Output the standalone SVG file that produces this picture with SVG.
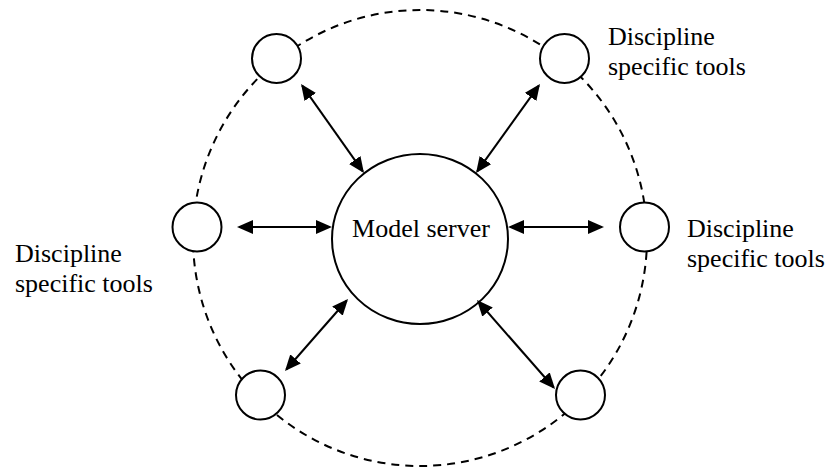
<svg xmlns="http://www.w3.org/2000/svg" width="830" height="468" viewBox="0 0 830 468">
<style>
.node{fill:#fff;stroke:#000;stroke-width:2}
.ring{fill:none;stroke:#000;stroke-width:2;stroke-dasharray:8 6}
.conn line{stroke:#000;stroke-width:2}
.lbl{font-family:"Liberation Serif","Times New Roman",serif;font-size:26px;fill:#000}
</style>
<defs>
<marker id="ah" markerUnits="userSpaceOnUse" markerWidth="16" markerHeight="14" refX="14" refY="7" orient="auto-start-reverse" viewBox="0 0 16 14">
<path d="M0,0 L16,7 L0,14 z" fill="#000"/>
</marker>
</defs>
<rect width="830" height="468" fill="#fff"/>
<ellipse class="ring" cx="420" cy="238" rx="227" ry="228"/>
<g id="server">
<ellipse class="node" cx="420" cy="239" rx="88" ry="85"/>
<text class="lbl" x="421" y="237" text-anchor="middle">Model server</text>
</g>
<g id="tool-top-left"><circle class="node" cx="276.5" cy="58.5" r="24.5"/></g>
<g id="tool-top-right"><circle class="node" cx="564.5" cy="58.5" r="24.5"/></g>
<g id="tool-left"><circle class="node" cx="197" cy="227" r="24.5"/></g>
<g id="tool-right"><circle class="node" cx="644.5" cy="227" r="24.5"/></g>
<g id="tool-bottom-left"><circle class="node" cx="260.5" cy="395" r="24.5"/></g>
<g id="tool-bottom-right"><circle class="node" cx="580.5" cy="395" r="24.5"/></g>
<g id="labels">
<text class="lbl" x="608" y="45">Discipline</text>
<text class="lbl" x="608" y="75">specific tools</text>
<text class="lbl" x="15" y="262">Discipline</text>
<text class="lbl" x="15" y="292">specific tools</text>
<text class="lbl" x="687" y="237">Discipline</text>
<text class="lbl" x="687" y="267">specific tools</text>
</g>
<g id="connectors" class="conn">
<line x1="239" y1="227" x2="330" y2="227" marker-start="url(#ah)" marker-end="url(#ah)"/>
<line x1="510" y1="227" x2="602" y2="227" marker-start="url(#ah)" marker-end="url(#ah)"/>
<line x1="302.2" y1="85.6" x2="362.8" y2="171.4" marker-start="url(#ah)" marker-end="url(#ah)"/>
<line x1="538.8" y1="85.6" x2="477.2" y2="171.4" marker-start="url(#ah)" marker-end="url(#ah)"/>
<line x1="346.7" y1="300.5" x2="286.3" y2="369.5" marker-start="url(#ah)" marker-end="url(#ah)"/>
<line x1="478.3" y1="301.5" x2="553.7" y2="387.5" marker-start="url(#ah)" marker-end="url(#ah)"/>
</g>
</svg>
